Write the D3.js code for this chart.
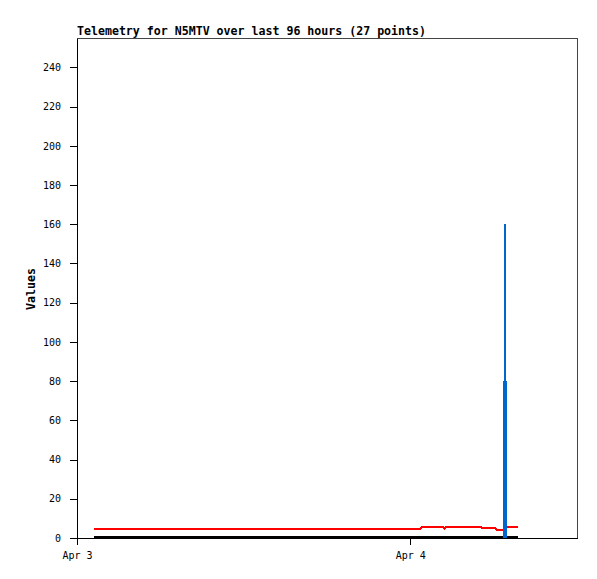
<!DOCTYPE html>
<html>
<head>
<meta charset="utf-8">
<script src="https://cdn.jsdelivr.net/npm/d3@7"></script>
<style>
  body { margin: 0; background: #fff; }
  svg { display: block; }
  text { font-family: "DejaVu Sans Mono", "Liberation Mono", monospace; fill: #000; }
</style>
</head>
<body>
<div id="chart"></div>
<script>
// series
const redTimes = ["2024-04-03T01:13", "2024-04-04T00:42", "2024-04-04T00:54", "2024-04-04T02:18",
  "2024-04-04T02:27", "2024-04-04T02:36", "2024-04-04T05:06", "2024-04-04T05:12", "2024-04-04T06:06",
  "2024-04-04T06:12", "2024-04-04T06:48", "2024-04-04T06:57", "2024-04-04T07:45"];
const redValues = [4.7, 4.7, 5.8, 5.8, 4.9, 5.8, 5.8, 4.9, 4.9, 4.3, 4.3, 5.8, 5.8];

const blackTimes = ["2024-04-03T01:13", "2024-04-04T07:45"];
const blackValues = [0.5, 0.5];

const blueTimes = ["2024-04-04T06:43", "2024-04-04T06:48", "2024-04-04T06:55"];
const blueValues = [80, 160, 80];

const yTicks = [0, 20, 40, 60, 80, 100, 120, 140, 160, 180, 200, 220, 240];
const xTicks = ["2024-04-03T00:00", "2024-04-04T00:00"];
const xDomain = ["2024-04-03T00:00", "2024-04-04T12:00"];

const title = "Telemetry for N5MTV over last 96 hours (27 points)";
const yLabel = "Values";

const width = 597, height = 579;
const margin = { top: 38, right: 20, bottom: 41, left: 77 };
const plotW = width - margin.left - margin.right;
const plotH = height - margin.top - margin.bottom;

const parse = d3.timeParse("%Y-%m-%dT%H:%M");

const x = d3.scaleTime()
  .domain(xDomain.map(parse))
  .range([0, plotW]);

const y = d3.scaleLinear()
  .domain([0, 255])
  .range([plotH, 0]);

const svg = d3.select("#chart").append("svg")
  .attr("width", width)
  .attr("height", height);

const g = svg.append("g")
  .attr("transform", `translate(${margin.left},${margin.top})`);

// frame
g.append("rect")
  .attr("x", 0.5).attr("y", 0.5)
  .attr("width", plotW).attr("height", plotH)
  .attr("fill", "none")
  .attr("stroke", "#444")
  .attr("shape-rendering", "crispEdges");

// series
const line = d3.line()
  .x(d => x(d.t))
  .y(d => y(d.v));

const zip = (ts, vs) => ts.map((t, i) => ({ t: parse(t), v: vs[i] }));

g.append("path")
  .datum(zip(blackTimes, blackValues))
  .attr("d", line)
  .attr("fill", "none")
  .attr("stroke", "#000")
  .attr("stroke-width", 2)
  .attr("shape-rendering", "crispEdges");

g.append("path")
  .datum(zip(redTimes, redValues))
  .attr("d", line)
  .attr("fill", "none")
  .attr("stroke", "#ff0000")
  .attr("stroke-width", 2)
  .attr("shape-rendering", "crispEdges");

g.selectAll(".impulse")
  .data(zip(blueTimes, blueValues))
  .enter().append("line")
  .attr("class", "impulse")
  .attr("x1", d => x(d.t))
  .attr("x2", d => x(d.t))
  .attr("y1", y(0))
  .attr("y2", d => y(d.v))
  .attr("stroke", "#0066cc")
  .attr("stroke-width", 2)
  .attr("shape-rendering", "crispEdges");

// axes
const yAxis = g.append("g")
  .call(d3.axisLeft(y).tickValues(yTicks).tickSizeInner(7).tickSizeOuter(0).tickPadding(9));

const xAxis = g.append("g")
  .attr("transform", `translate(0,${plotH})`)
  .call(d3.axisBottom(x)
    .tickValues(xTicks.map(parse))
    .tickFormat(d3.timeFormat("%b %-d"))
    .tickSizeInner(7).tickSizeOuter(0).tickPadding(7));

[yAxis, xAxis].forEach(a => {
  a.selectAll("line, path")
    .attr("stroke", "#000")
    .attr("shape-rendering", "crispEdges");
  a.selectAll("text")
    .style("font-size", "10px");
});

// titles
svg.append("text")
  .attr("x", margin.left)
  .attr("y", 35)
  .style("font-size", "11.6px")
  .style("font-weight", "bold")
  .text(title);

svg.append("text")
  .attr("transform", `translate(35,${margin.top + plotH / 2 + 1}) rotate(-90)`)
  .attr("text-anchor", "middle")
  .style("font-size", "11.6px")
  .style("font-weight", "bold")
  .text(yLabel);
</script>
</body>
</html>
